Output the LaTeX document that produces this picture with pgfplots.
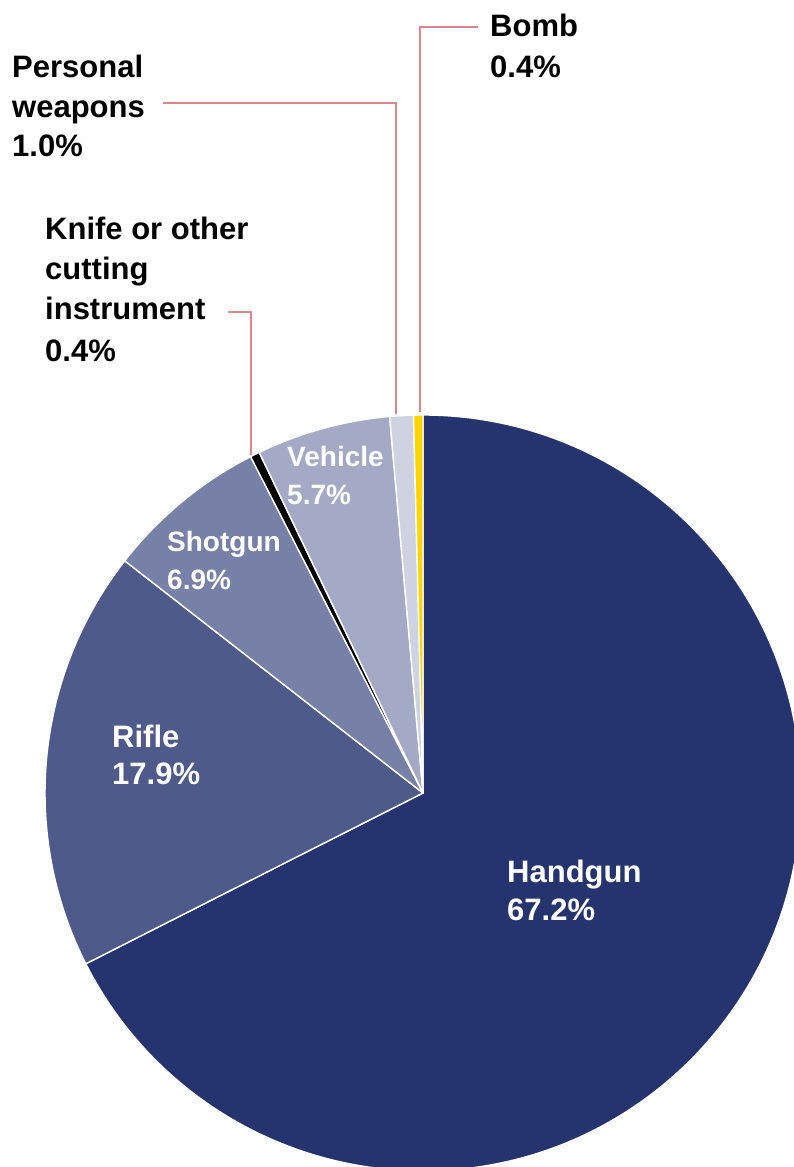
\documentclass[border=0pt]{standalone}
\usepackage{pgfplots}
\pgfplotsset{compat=1.18}
\usepackage{pgfplotstable}
\usepackage{fontspec}
\setmainfont{Liberation Sans}

\definecolor{cHand}{HTML}{25346E}
\definecolor{cRifle}{HTML}{4E5A8A}
\definecolor{cShot}{HTML}{7780A6}
\definecolor{cKnife}{HTML}{000000}
\definecolor{cVeh}{HTML}{A4AAC6}
\definecolor{cPers}{HTML}{CED2E1}
\definecolor{cBomb}{HTML}{FFD400}
\definecolor{leader}{HTML}{E0858A}

% share of each weapon type (%)
\pgfplotstableread{
label    value color
Handgun  67.2  cHand
Rifle    17.9  cRifle
Shotgun  6.9   cShot
Knife    0.4   cKnife
Vehicle  5.7   cVeh
Personal 1.0   cPers
Bomb     0.4   cBomb
}\piedata

\newcommand{\lbl}[5]{\node[anchor=base west, inner sep=0pt, text=#1,
  font=\bfseries\fontsize{#2}{#2}\selectfont] at (axis cs:#3,#4) {#5};}

\begin{document}
\begin{tikzpicture}
\begin{axis}[
    x=1pt, y=1pt,
    xmin=0, xmax=794, ymin=0, ymax=1167,
    hide axis,
    clip=true,
]
\coordinate (BL) at (axis cs:0,0);
\coordinate (TR) at (axis cs:794,1167);

\pgfplotstablegetrowsof{\piedata}
\pgfmathtruncatemacro\lastrow{\pgfplotsretval-1}
\def\total{0}
\pgfplotsforeachungrouped \i in {0,...,\lastrow}{%
  \pgfplotstablegetelem{\i}{value}\of\piedata
  \pgfmathsetmacro\total{\total+\pgfplotsretval}%
}
\def\cum{0}
\pgfplotsforeachungrouped \i in {0,...,\lastrow}{%
  \pgfplotstablegetelem{\i}{value}\of\piedata \let\val\pgfplotsretval
  \pgfplotstablegetelem{\i}{color}\of\piedata \let\col\pgfplotsretval
  \pgfmathsetmacro\angA{90-\cum/\total*360}%
  \pgfmathsetmacro\cum{\cum+\val}%
  \pgfmathsetmacro\angB{90-\cum/\total*360}%
  \pgfmathsetmacro\xA{423+378*cos(\angA)}%
  \pgfmathsetmacro\yA{374+378*sin(\angA)}%
  \edef\temp{\noexpand\fill[\col, draw=white, line width=1.4pt, line join=round]
    (axis cs:423,374) -- (axis cs:\xA,\yA)
    arc[start angle=\angA, end angle=\angB, radius=378] -- cycle;}%
  \temp
}

% leader lines
\draw[leader, line width=1.5pt] (axis cs:478,1140) -- (axis cs:420,1140) -- (axis cs:420,755);
\draw[leader, line width=1.5pt] (axis cs:163,1064) -- (axis cs:396,1064) -- (axis cs:396,753);
\draw[leader, line width=1.5pt] (axis cs:228,855) -- (axis cs:251,855) -- (axis cs:251,712);

% outside labels
\lbl{black}{31}{490}{1130}{Bomb}
\lbl{black}{31}{490}{1089}{0.4\%}
\lbl{black}{31}{12}{1089}{Personal}
\lbl{black}{31}{12}{1049}{weapons}
\lbl{black}{31}{12}{1010}{1.0\%}
\lbl{black}{31}{45}{927}{Knife or other}
\lbl{black}{31}{45}{887}{cutting}
\lbl{black}{31}{45}{847}{instrument}
\lbl{black}{31}{45}{805}{0.4\%}

% inside labels
\lbl{white}{31}{507}{284}{Handgun}
\lbl{white}{31}{507}{246}{67.2\%}
\lbl{white}{31}{112}{419}{Rifle}
\lbl{white}{31}{112}{382}{17.9\%}
\lbl{white}{28}{167}{615}{Shotgun}
\lbl{white}{28}{167}{577}{6.9\%}
\lbl{white}{28}{287}{700}{Vehicle}
\lbl{white}{28}{287}{662}{5.7\%}
\end{axis}
\pgfresetboundingbox
\path (BL) rectangle (TR);
\end{tikzpicture}
\end{document}
